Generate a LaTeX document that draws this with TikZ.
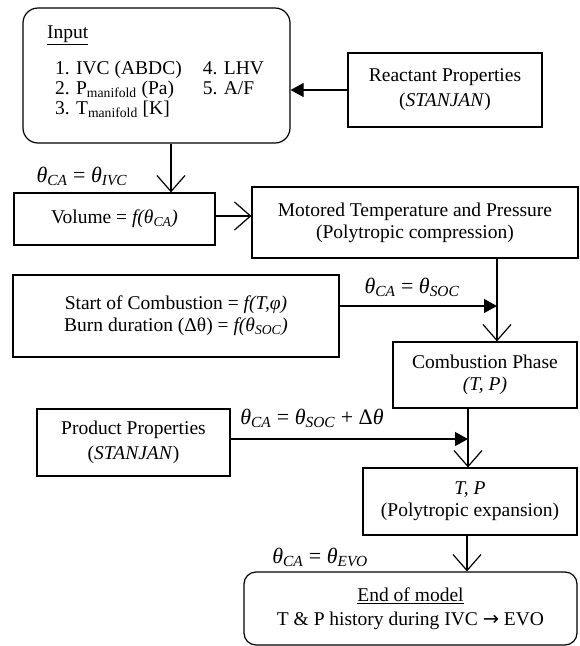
\documentclass[tikz,border=0pt]{standalone}
\usepackage{fontspec}
\setmainfont{Liberation Serif}
\newfontfamily\arrowfont{DejaVu Sans}
\usetikzlibrary{arrows.meta}
\usetikzlibrary{positioning}

\newcommand{\thsub}[1]{\textit{θ}\textsubscript{\textit{#1}}}

\begin{document}
\begin{tikzpicture}[x=1pt,y=-1pt,line width=1.2pt,
  open tip/.style={-{Straight Barb[length=16pt,width=28pt]}},
  fill tip/.style={-{Triangle[length=13pt,width=14pt]}},
  main box/.style={rectangle,draw,inner sep=0pt,align=center,
  font=\fontsize{19.5}{22}\selectfont},
  round box/.style={main box,rounded corners=15pt},
  cond label/.style={font=\fontsize{22}{24}\selectfont,inner sep=0pt}]

  \useasboundingbox (0,0) rectangle (579,646);

  \node[round box,minimum width=267pt,minimum height=135pt] (IN) at (156.5,75.5)
    {\renewcommand{\arraystretch}{0.91}%
     \begin{tabular}{@{\hspace{6pt}}l@{\hspace{21pt}}l@{}}
     \multicolumn{2}{@{\hspace{-2pt}}l}{\underline{Input}}\\[16pt]
     1. IVC (ABDC) & 4. LHV\\
     2. P\textsubscript{manifold} (Pa) & 5. A/F\\
     3. T\textsubscript{manifold} [K] & \\[6pt]
     \end{tabular}};
  \node[main box,minimum width=194pt,minimum height=74pt] (RP) at (445,90)
    {Reactant Properties\\[3pt](\textit{STANJAN})};
  \node[main box,minimum width=201pt,minimum height=52pt] (VOL) at (114.5,219)
    {Volume = \textit{f(θ\textsubscript{CA})}};
  \node[main box,minimum width=326pt,minimum height=71pt] (MTP) at (415,222.5)
    {Motored Temperature and Pressure\\(Polytropic compression)};
  \node[main box,minimum width=326pt,minimum height=82pt] (SOC) at (176,316)
    {Start of Combustion = \textit{f(T,φ)}\\Burn duration (Δθ) = \textit{f(θ\textsubscript{SOC})}};
  \node[main box,minimum width=184pt,minimum height=66pt] (CP) at (485,375)
    {Combustion Phase\\\textit{(T, P)}};
  \node[main box,minimum width=193pt,minimum height=67pt] (PP) at (133.5,442.5)
    {Product Properties\\[3pt](\textit{STANJAN})};
  \node[main box,minimum width=214pt,minimum height=67pt] (TP) at (470,501.5)
    {\textit{T, P}\\(Polytropic expansion)};
  \node[round box,rounded corners=12pt,minimum width=333pt,minimum height=73pt] (END) at (410.5,608.5)
    {\underline{End of model}\\[2pt]T \& P history during IVC {\arrowfont →} EVO};

  % crank angle conditions
  \node[cond label] (CIVC) at (82,176) {\thsub{CA} = \thsub{IVC}};
  \node[cond label] (CSOC) at (412,287) {\thsub{CA} = \thsub{SOC}};
  \node[cond label] (CBURN) at (312,418) {\thsub{CA} = \thsub{SOC} + Δ\textit{θ}};
  \node[cond label] (CEVO) at (320,557) {\thsub{CA} = \thsub{EVO}};

  \coordinate (J1) at ([xshift=12pt]CP.north);
  \coordinate (J2) at ([xshift=-17pt]CP.south);
  \coordinate (J3) at ([xshift=-3pt]TP.south);
  \coordinate (S1) at ([yshift=10pt]SOC.east);
  \coordinate (P1) at ([yshift=3.5pt]PP.east);
  \coordinate (V1) at ([yshift=3pt]VOL.east);
  \coordinate (I1) at ([xshift=14.5pt]IN.south);

  %Reactant data goes into the input block
  \draw[fill tip] (RP.west) -- (RP.west -| IN.east);
  %Input starts the model at IVC
  \draw[open tip] (I1) -- (I1 |- VOL.north);
  \draw[open tip] (V1) -- (V1 -| MTP.west);
  %Compression runs until start of combustion
  \draw[open tip] (J1 |- MTP.south) -- (J1);
  \draw[fill tip] (S1) -- (S1 -| J1);
  %Combustion ends after the burn duration
  \draw[open tip] (J2) -- (J2 |- TP.north);
  \draw[fill tip] (P1) -- (P1 -| J2);
  %Expansion runs until EVO
  \draw[open tip] (J3) -- (J3 |- END.north);

\end{tikzpicture}
\end{document}
